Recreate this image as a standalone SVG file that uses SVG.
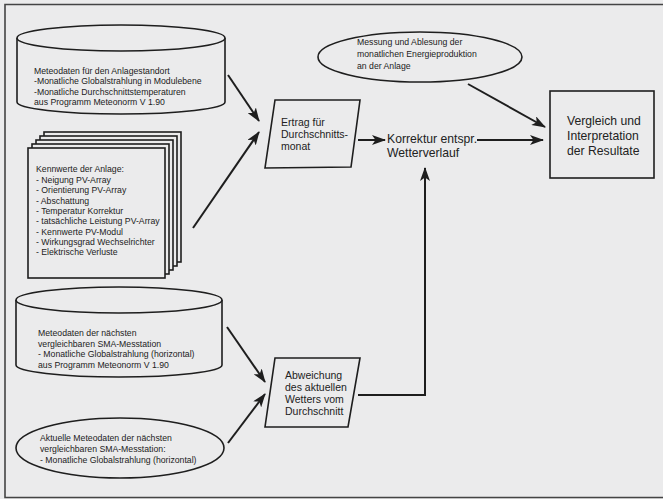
<svg xmlns="http://www.w3.org/2000/svg" width="663" height="499" viewBox="0 0 663 499">
<defs>
<marker id="ah" viewBox="0 0 14 10" refX="13" refY="5" markerWidth="14" markerHeight="10" markerUnits="userSpaceOnUse" orient="auto">
<path d="M0,0 L14,5 L0,10 L3.5,5 Z" fill="#1e1e1e"/>
</marker>
<style>
.s{fill:none;stroke:#1e1e1e;stroke-width:1.6}
.f{fill:#ebebec;stroke:#1e1e1e;stroke-width:1.6}
.t{font-family:"Liberation Sans",Arial,sans-serif;fill:#222}
.sm{font-size:8.7px}
.md{font-size:10.5px}
.lg{font-size:12.2px}
.c{fill:none;stroke:#1e1e1e;stroke-width:2;marker-end:url(#ah)}
</style>
</defs>
<rect x="0" y="0" width="663" height="499" fill="#ebebec"/>
<path d="M663,4.5 H5 V497.5 H663" fill="none" stroke="#444" stroke-width="1.6"/>

<g id="cyl1">
<path class="f" d="M17,38 V102 A104,12 0 0 0 225,102 V38"/>
<ellipse class="f" cx="121" cy="38" rx="104" ry="13"/>
<text class="t sm"><tspan x="34" y="74">Meteodaten für den Anlagestandort</tspan><tspan x="34" y="84.3">-Monatliche Globalstrahlung in Modulebene</tspan><tspan x="34" y="94.6">-Monatliche Durchschnittstemperaturen</tspan><tspan x="34" y="104.9">aus Programm Meteonorm V 1.90</tspan></text>
</g>

<g id="stack">
<rect class="f" x="44" y="132" width="137" height="130"/>
<rect class="f" x="40" y="136" width="137" height="130"/>
<rect class="f" x="36" y="140" width="137" height="130"/>
<rect class="f" x="32" y="144" width="137" height="130"/>
<rect class="f" x="28" y="148" width="137" height="130"/>
<text class="t sm"><tspan x="36" y="172">Kennwerte der Anlage:</tspan><tspan x="36" y="183">- Neigung PV-Array</tspan><tspan x="36" y="193.3">- Orientierung PV-Array</tspan><tspan x="36" y="203.6">- Abschattung</tspan><tspan x="36" y="213.9">- Temperatur Korrektur</tspan><tspan x="36" y="224.2">- tatsächliche Leistung PV-Array</tspan><tspan x="36" y="234.5">- Kennwerte PV-Modul</tspan><tspan x="36" y="244.8">- Wirkungsgrad Wechselrichter</tspan><tspan x="36" y="255.1">- Elektrische Verluste</tspan></text>
</g>

<g id="cyl2">
<path class="f" d="M16,300 V365 A103,12 0 0 0 222,365 V300"/>
<ellipse class="f" cx="119" cy="300" rx="103" ry="13"/>
<text class="t sm"><tspan x="38" y="336">Meteodaten der nächsten</tspan><tspan x="38" y="346.5">vergleichbaren SMA-Messtation</tspan><tspan x="38" y="357">- Monatliche Globalstrahlung (horizontal)</tspan><tspan x="38" y="367.5">aus Programm Meteonorm V 1.90</tspan></text>
</g>

<g id="ell_aktuell">
<ellipse class="s" cx="120" cy="448" rx="104" ry="30"/>
<text class="t sm"><tspan x="40" y="441">Aktuelle Meteodaten der nächsten</tspan><tspan x="40" y="452">vergleichbaren SMA-Messtation:</tspan><tspan x="40" y="463">- Monatliche Globalstrahlung (horizontal)</tspan></text>
</g>

<g id="ell_messung">
<ellipse class="s" cx="420" cy="57" rx="102" ry="25"/>
<text class="t sm"><tspan x="357" y="45">Messung und Ablesung der</tspan><tspan x="357" y="57">monatlichen Energieproduktion</tspan><tspan x="357" y="69">an der Anlage</tspan></text>
</g>

<g id="ertrag">
<polygon class="s" points="275,100 360,100 351,167 265,168"/>
<text class="t md"><tspan x="281" y="126">Ertrag für</tspan><tspan x="281" y="138">Durchschnitts-</tspan><tspan x="281" y="150">monat</tspan></text>
</g>

<g id="korrektur">
<text class="t lg"><tspan x="387" y="143">Korrektur entspr.</tspan><tspan x="387" y="157">Wetterverlauf</tspan></text>
</g>

<g id="vergleich">
<rect class="s" x="550" y="91" width="104" height="87"/>
<text class="t lg"><tspan x="567" y="125">Vergleich und</tspan><tspan x="567" y="140">Interpretation</tspan><tspan x="567" y="155">der Resultate</tspan></text>
</g>

<g id="abweichung">
<polygon class="s" points="275,358 360,358 348,427 265,427"/>
<text class="t md"><tspan x="285" y="379">Abweichung</tspan><tspan x="285" y="391">des aktuellen</tspan><tspan x="285" y="403">Wetters vom</tspan><tspan x="285" y="415">Durchschnitt</tspan></text>
</g>

<g id="connectors">
<line class="c" x1="228" y1="75" x2="259" y2="121"/>
<line class="c" x1="193" y1="228" x2="259" y2="132"/>
<line class="c" x1="358" y1="140" x2="385" y2="140"/>
<line class="c" x1="477" y1="140" x2="543" y2="140"/>
<line class="c" x1="468" y1="84" x2="545" y2="127"/>
<polyline class="c" points="358,395 425,395 425,168"/>
<line class="c" x1="227" y1="327" x2="265" y2="382"/>
<line class="c" x1="228" y1="443" x2="265" y2="394"/>
</g>
</svg>
